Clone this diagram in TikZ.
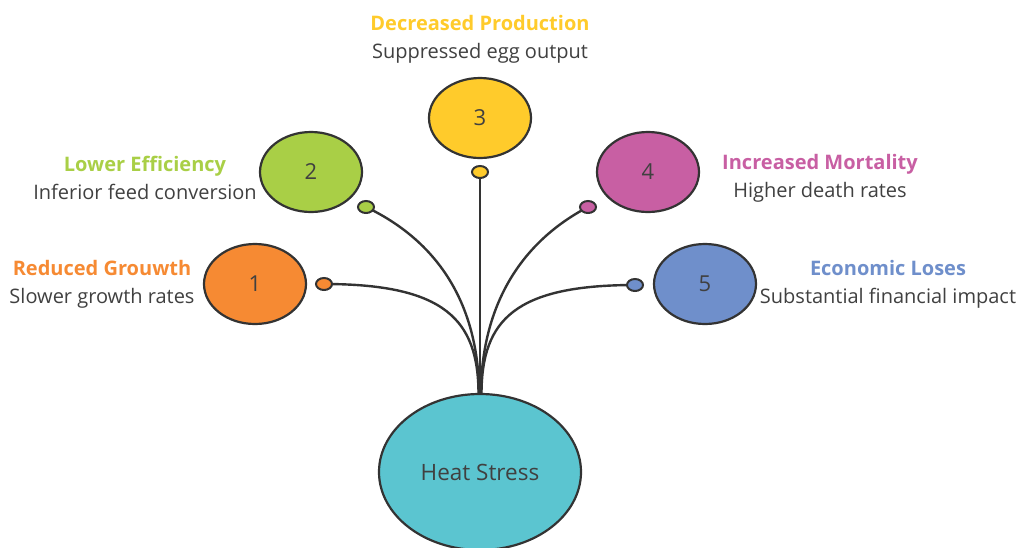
\documentclass[tikz,border=0pt]{standalone}
\usepackage{fontspec}
\setmainfont{Open Sans}
\usetikzlibrary{shapes.geometric, positioning}
\definecolor{hsCyan}{HTML}{5BC5D0}
\definecolor{hsOrange}{HTML}{F68A33}
\definecolor{hsGreen}{HTML}{A9CF46}
\definecolor{hsYellow}{HTML}{FFCB2B}
\definecolor{hsPink}{HTML}{C85FA3}
\definecolor{hsBlue}{HTML}{6F8FCB}
\definecolor{hsLine}{HTML}{333333}
\definecolor{hsText}{HTML}{404040}
\tikzset{
  bubble/.style   = {ellipse, draw=hsLine, line width=2.2pt, fill=#1,
                     minimum width=102pt, minimum height=80pt, inner sep=0pt,
                     text=hsText, font=\fontsize{22}{24}\selectfont},
  knob/.style     = {ellipse, draw=hsLine, line width=2pt, fill=#1,
                     minimum width=16pt, minimum height=12pt, inner sep=0pt},
  link/.style     = {hsLine, line width=2.4pt},
  lbl/.style      = {align=center, text=hsText, inner sep=0pt,
                     font=\fontsize{20}{28}\selectfont},
}
\newcommand{\ttl}[2]{{\bfseries\color{#1}#2}}
\begin{document}
\begin{tikzpicture}[x=1pt,y=-1pt]
  \useasboundingbox (0,0) rectangle (1018,547);
  % hub
  \node[bubble=hsCyan, minimum width=202pt, minimum height=156pt,
        font=\fontsize{22.5}{26}\selectfont] (hs) at (480,472) {Heat Stress};
  % effects
  \node[bubble=hsOrange] (c1) at (255,284) {1};
  \node[bubble=hsGreen]  (c2) at (311,172) {2};
  \node[bubble=hsYellow] (c3) at (480,118) {3};
  \node[bubble=hsPink]   (c4) at (648,172) {4};
  \node[bubble=hsBlue]   (c5) at (705,284) {5};
  % connectors
  \coordinate (d1) at (324,284); \coordinate (d2) at (366,207);
  \coordinate (d3) at (480,172); \coordinate (d4) at (588,207);
  \coordinate (d5) at (635,285);
  \draw[link] (d1) .. controls (445,284) and (478,320) .. ([xshift=-1.5pt]hs.north);
  \draw[link] (d2) .. controls (435,240) and (478,300) .. ([xshift=-0.8pt]hs.north);
  \draw[link] (d3) -- (hs.north);
  \draw[link] (d4) .. controls (525,240) and (482,300) .. ([xshift=0.8pt]hs.north);
  \draw[link] (d5) .. controls (515,285) and (482,320) .. ([xshift=1.5pt]hs.north);
  \node[knob=hsOrange] (k1) at (d1) {};
  \node[knob=hsGreen]  (k2) at (d2) {};
  \node[knob=hsYellow] (k3) at (d3) {};
  \node[knob=hsPink]   (k4) at (d4) {};
  \node[knob=hsBlue]   (k5) at (d5) {};
  % labels
  \node[lbl] (t1) at (102,284) {\ttl{hsOrange}{Reduced Grouwth}\\Slower growth rates};
  \node[lbl] (t2) at (145,178) {\ttl{hsGreen}{Lower Efficiency}\\Inferior feed conversion};
  \node[lbl] (t3) at (480,39)  {\ttl{hsYellow}{Decreased Production}\\Suppressed egg output};
  \node[lbl] (t4) at (820,178) {\ttl{hsPink}{Increased Mortality}\\Higher death rates};
  \node[lbl] (t5) at (888,284) {\ttl{hsBlue}{Economic Loses}\\Substantial financial impact};
\end{tikzpicture}
\end{document}
